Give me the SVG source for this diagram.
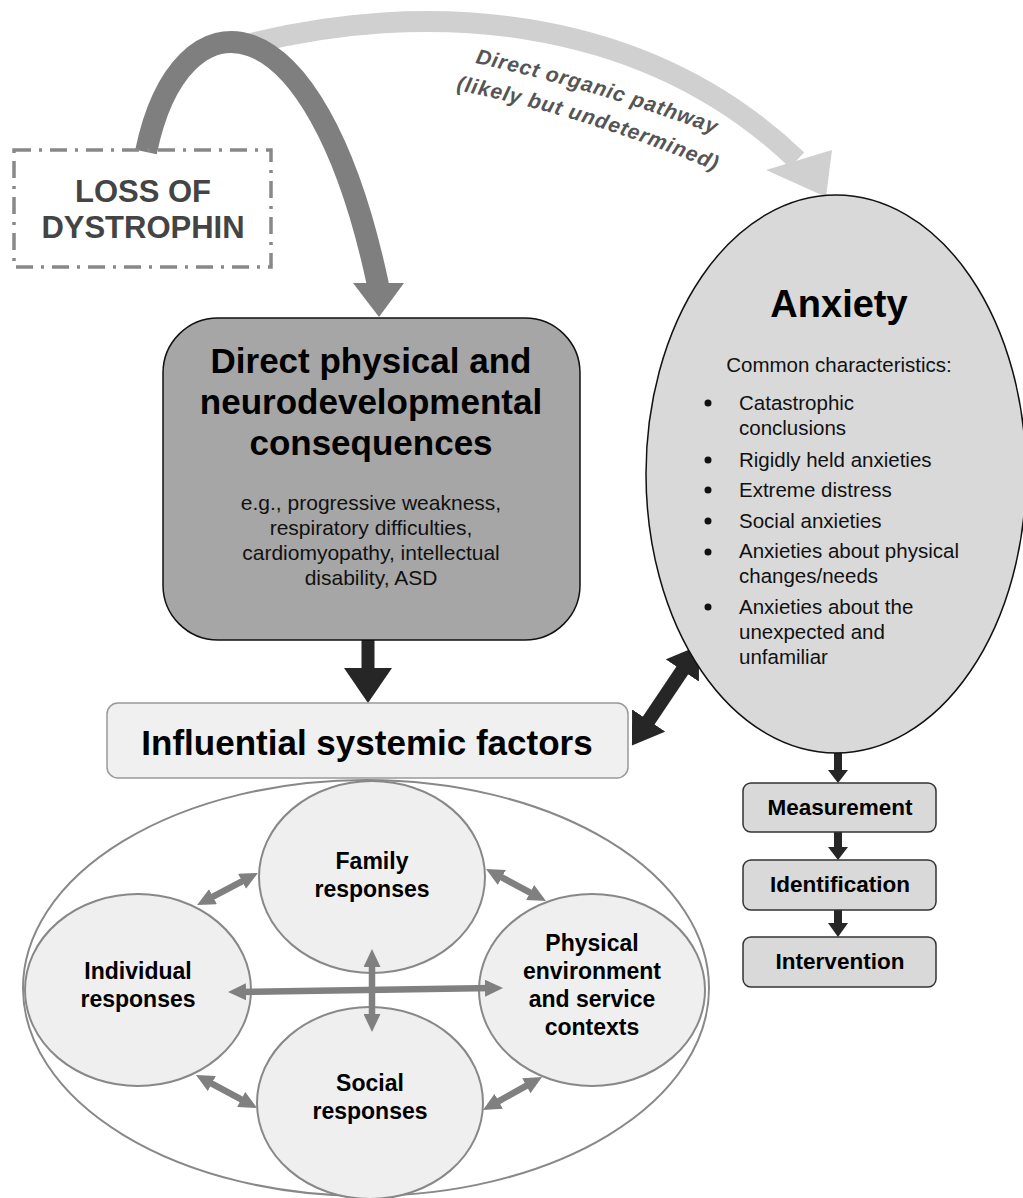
<svg xmlns="http://www.w3.org/2000/svg" width="1023" height="1198" viewBox="0 0 1023 1198">
<style>
text{font-family:"Liberation Sans",Arial,Helvetica,sans-serif;}
.b{font-weight:bold;}
.c{text-anchor:middle;}
.circ{fill:#efefef;stroke:#888;stroke-width:2;}
.box{fill:#d9d9d9;stroke:#333;stroke-width:1.5;}
.ga{stroke:#808080;stroke-width:6.5;fill:none;marker-start:url(#gah);marker-end:url(#gah);}
.ba{stroke:#262626;stroke-width:14;fill:none;marker-start:url(#bah);marker-end:url(#bah);}
.blk{fill:#262626;}
</style>
<defs>
<marker id="gah" markerUnits="userSpaceOnUse" markerWidth="18" markerHeight="17" viewBox="0 0 18 17" refX="8" refY="8.5" orient="auto-start-reverse"><path d="M0,0 L18,8.5 L0,17 z" fill="#808080"/></marker>
<marker id="bah" markerUnits="userSpaceOnUse" markerWidth="30" markerHeight="40" viewBox="0 0 30 40" refX="12" refY="20" orient="auto-start-reverse"><path d="M0,0 L30,20 L0,40 z" fill="#262626"/></marker>
<path id="tp1" d="M475,63 Q600,90 735,142"/>
<path id="tp2" d="M456,90 Q592,117 732,178"/>
</defs>

<g id="connectors">
<!-- light organic pathway arc -->
<path d="M245,45 C420,0 640,10 797,160" stroke="#d0d0d0" stroke-width="21" fill="none"/>
<polygon points="766,170 832,150 826,197" fill="#d0d0d0"/>
<!-- dark arc -->
<path d="M146,152 C180,-12 315,-12 378,285" stroke="#7f7f7f" stroke-width="22" fill="none"/>
<polygon points="353,283 404,283 379,317" fill="#7f7f7f"/>
<!-- main box to influential -->
<rect x="361.5" y="639" width="13" height="31" class="blk"/>
<polygon points="344,668 392,668 368,703" class="blk"/>
<!-- influential <-> anxiety -->
<line x1="642" y1="730.5" x2="689" y2="660.5" class="ba"/>
<!-- anxiety chain -->
<rect x="834" y="752" width="8" height="19" class="blk"/>
<polygon points="828,770 848,770 838,783" class="blk"/>
<rect x="834" y="832" width="8" height="16" class="blk"/>
<polygon points="828,847 848,847 838,860" class="blk"/>
<rect x="834" y="909" width="8" height="15" class="blk"/>
<polygon points="828,923 848,923 838,937" class="blk"/>
</g>

<g id="loss-of-dystrophin">
<rect x="14" y="150" width="257" height="117" fill="none" stroke="#888" stroke-width="3.5" stroke-dasharray="17,8,3,8"/>
<text x="143" y="202" class="b c" font-size="31" fill="#444">LOSS OF</text>
<text x="143" y="238" class="b c" font-size="31" fill="#444">DYSTROPHIN</text>
</g>

<g id="pathway-label" font-size="21" font-weight="bold" font-style="italic" fill="#555" letter-spacing="0.9">
<text><textPath href="#tp1">Direct organic pathway</textPath></text>
<text><textPath href="#tp2">(likely but undetermined)</textPath></text>
</g>

<g id="direct-consequences">
<rect x="163" y="318" width="417" height="322" rx="55" fill="#a6a6a6" stroke="#111" stroke-width="1.5"/>
<text x="371" y="373" class="b c" font-size="35">Direct physical and</text>
<text x="371" y="414" class="b c" font-size="35">neurodevelopmental</text>
<text x="371" y="455" class="b c" font-size="35">consequences</text>
<text x="371" y="510" class="c" font-size="21" fill="#111">e.g., progressive weakness,</text>
<text x="371" y="535" class="c" font-size="21" fill="#111">respiratory difficulties,</text>
<text x="371" y="560" class="c" font-size="21" fill="#111">cardiomyopathy, intellectual</text>
<text x="371" y="585" class="c" font-size="21" fill="#111">disability, ASD</text>
</g>

<g id="anxiety">
<ellipse cx="836" cy="474" rx="190" ry="279" fill="#d9d9d9" stroke="#111" stroke-width="1.5"/>
<text x="839" y="317" class="b c" font-size="38">Anxiety</text>
<text x="839" y="372" class="c" font-size="20.5" fill="#111">Common characteristics:</text>
<g fill="#111">
<circle cx="708" cy="403" r="3.5"/><circle cx="708" cy="460" r="3.5"/><circle cx="708" cy="490" r="3.5"/><circle cx="708" cy="521" r="3.5"/><circle cx="708" cy="552" r="3.5"/><circle cx="708" cy="607" r="3.5"/>
</g>
<g font-size="20.5" fill="#111">
<text x="739" y="410">Catastrophic</text>
<text x="739" y="435">conclusions</text>
<text x="739" y="467">Rigidly held anxieties</text>
<text x="739" y="497">Extreme distress</text>
<text x="739" y="528">Social anxieties</text>
<text x="739" y="558">Anxieties about physical</text>
<text x="739" y="583">changes/needs</text>
<text x="739" y="614">Anxieties about the</text>
<text x="739" y="639">unexpected and</text>
<text x="739" y="664">unfamiliar</text>
</g>
</g>

<g id="influential-factors">
<rect x="107" y="703" width="521" height="75" rx="11" fill="#f0f0f0" stroke="#999" stroke-width="1.5"/>
<text x="367" y="755" class="b c" font-size="35">Influential systemic factors</text>
</g>

<g id="measurement">
<rect x="743" y="783" width="193" height="49" rx="8" class="box"/>
<text x="840" y="815" class="b c" font-size="22.5">Measurement</text>
</g>
<g id="identification">
<rect x="743" y="860" width="193" height="50" rx="8" class="box"/>
<text x="840" y="892" class="b c" font-size="22.5">Identification</text>
</g>
<g id="intervention">
<rect x="743" y="937" width="193" height="50" rx="8" class="box"/>
<text x="840" y="969" class="b c" font-size="22.5">Intervention</text>
</g>

<g id="systemic-context">
<ellipse cx="366" cy="988" rx="343" ry="208" fill="#fff" stroke="#888" stroke-width="2"/>
</g>

<g id="individual-responses">
<ellipse cx="138" cy="990" rx="113" ry="96" class="circ"/>
<text x="138" y="979" class="b c" font-size="23">Individual</text>
<text x="138" y="1007" class="b c" font-size="23">responses</text>
</g>
<g id="family-responses">
<ellipse cx="372" cy="877" rx="113" ry="96" class="circ"/>
<text x="372" y="869" class="b c" font-size="23">Family</text>
<text x="372" y="897" class="b c" font-size="23">responses</text>
</g>
<g id="social-responses">
<ellipse cx="370" cy="1103" rx="113" ry="96" class="circ"/>
<text x="370" y="1091" class="b c" font-size="23">Social</text>
<text x="370" y="1119" class="b c" font-size="23">responses</text>
</g>
<g id="physical-environment">
<ellipse cx="592" cy="990" rx="113" ry="96" class="circ"/>
<text x="592" y="951" class="b c" font-size="23">Physical</text>
<text x="592" y="979" class="b c" font-size="23">environment</text>
<text x="592" y="1007" class="b c" font-size="23">and service</text>
<text x="592" y="1035" class="b c" font-size="23">contexts</text>
</g>

<g id="systemic-connectors">
<line x1="238" y1="991.9" x2="493" y2="988.1" class="ga"/>
<line x1="372" y1="959" x2="372" y2="1022" class="ga"/>
<line x1="205.9" y1="900.4" x2="249.1" y2="877.6" class="ga"/>
<line x1="204.8" y1="1079.8" x2="248.2" y2="1103.2" class="ga"/>
<line x1="494.8" y1="873.7" x2="537.2" y2="896.3" class="ga"/>
<line x1="491.7" y1="1105.1" x2="533.3" y2="1081.9" class="ga"/>
</g>
</svg>
